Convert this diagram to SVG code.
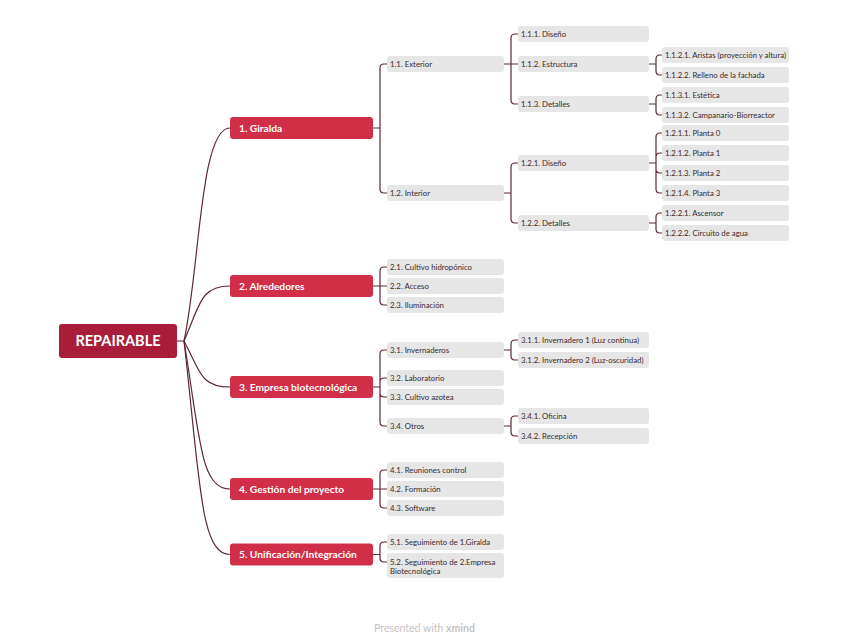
<svg xmlns="http://www.w3.org/2000/svg" width="848" height="642" viewBox="0 0 848 642">
<style>
.c{fill:none;stroke:#5E2933;stroke-width:1.2}
.root{fill:#A91D3A}
.n1{fill:#D12E47}
.n{fill:#E6E6E6}
.tr{font-family:Lato,"Open Sans",sans-serif;font-weight:bold;font-size:14.5px;fill:#fff}
.t1{font-family:Lato,"Open Sans",sans-serif;font-weight:bold;font-size:10.2px;fill:#fff}
.t{font-family:Lato,"Open Sans",sans-serif;font-size:7.8px;fill:#3B2A2E}
.ft{font-family:Lato,"Open Sans",sans-serif;font-size:10.5px;fill:#C4C4C4}
</style>
<rect width="848" height="642" fill="#fff"/>
<g id="connectors">
<path class="c" d="M177,341H184C200,266.5 200,128 230,128"/>
<path class="c" d="M184,341C200,305 200,286 230,286"/>
<path class="c" d="M184,341C200,371 200,387 230,387"/>
<path class="c" d="M184,341C200,437 200,489 230,489"/>
<path class="c" d="M184,341C200,479.7 200,554.5 230,554.5"/>
<path class="c" d="M373,128H380M380,128V68Q380,64 384,64H387M380,128V189Q380,193 384,193H387"/>
<path class="c" d="M373,286H387M380,286V271Q380,267 384,267H387M380,286V301Q380,305 384,305H387"/>
<path class="c" d="M373,387H380M380,387V354Q380,350 384,350H387M380,387V382Q380,378 384,378H387M380,387V393Q380,397 384,397H387M380,387V422Q380,426 384,426H387"/>
<path class="c" d="M373,489H387M380,489V474Q380,470 384,470H387M380,489V504Q380,508 384,508H387"/>
<path class="c" d="M373,554.5H380M380,554.5V546Q380,542 384,542H387M380,554.5V558Q380,562 384,562H387"/>
<path class="c" d="M504,64H518M511,64V38Q511,34 515,34H518M511,64V100Q511,104 515,104H518"/>
<path class="c" d="M504,193H511M511,193V167Q511,163 515,163H518M511,193V219Q511,223 515,223H518"/>
<path class="c" d="M504,350H511M511,350V344Q511,340 515,340H518M511,350V356Q511,360 515,360H518"/>
<path class="c" d="M504,426H511M511,426V420Q511,416 515,416H518M511,426V432Q511,436 515,436H518"/>
<path class="c" d="M649,64H656M656,64V59Q656,55 660,55H662M656,64V71Q656,75 660,75H662"/>
<path class="c" d="M649,104H656M656,104V99Q656,95 660,95H662M656,104V111Q656,115 660,115H662"/>
<path class="c" d="M649,163H656M656,163V137Q656,133 660,133H662M656,163V157Q656,153 660,153H662M656,163V169Q656,173 660,173H662M656,163V189Q656,193 660,193H662"/>
<path class="c" d="M649,223H656M656,223V217Q656,213 660,213H662M656,223V229Q656,233 660,233H662"/>
</g>
<g id="root"><rect class="root" x="59" y="324" width="118" height="34" rx="3"/><text class="tr" x="118" y="346" text-anchor="middle">REPAIRABLE</text></g>
<g id="n1"><rect class="n1" x="230" y="117" width="143" height="22" rx="3"/><text class="t1" x="239" y="131.7">1. Giralda</text></g>
<g id="n2"><rect class="n1" x="230" y="275" width="143" height="22" rx="3"/><text class="t1" x="239" y="289.7">2. Alrededores</text></g>
<g id="n3"><rect class="n1" x="230" y="376" width="143" height="22" rx="3"/><text class="t1" x="239" y="390.7">3. Empresa biotecnológica</text></g>
<g id="n4"><rect class="n1" x="230" y="478" width="143" height="22" rx="3"/><text class="t1" x="239" y="492.7">4. Gestión del proyecto</text></g>
<g id="n5"><rect class="n1" x="230" y="543.5" width="143" height="22" rx="3"/><text class="t1" x="239" y="558.2">5. Unificación/Integración</text></g>
<g id="n1_1"><rect class="n" x="387" y="56" width="117" height="16" rx="3"/><text class="t" x="390" y="66.8">1.1. Exterior</text></g>
<g id="n1_2"><rect class="n" x="387" y="185" width="117" height="16" rx="3"/><text class="t" x="390" y="195.8">1.2. Interior</text></g>
<g id="n2_1"><rect class="n" x="387" y="259" width="117" height="16" rx="3"/><text class="t" x="390" y="269.8">2.1. Cultivo hidropónico</text></g>
<g id="n2_2"><rect class="n" x="387" y="278" width="117" height="16" rx="3"/><text class="t" x="390" y="288.8">2.2. Acceso</text></g>
<g id="n2_3"><rect class="n" x="387" y="297" width="117" height="16" rx="3"/><text class="t" x="390" y="307.8">2.3. Iluminación</text></g>
<g id="n3_1"><rect class="n" x="387" y="342" width="117" height="16" rx="3"/><text class="t" x="390" y="352.8">3.1. Invernaderos</text></g>
<g id="n3_2"><rect class="n" x="387" y="370" width="117" height="16" rx="3"/><text class="t" x="390" y="380.8">3.2. Laboratorio</text></g>
<g id="n3_3"><rect class="n" x="387" y="389" width="117" height="16" rx="3"/><text class="t" x="390" y="399.8">3.3. Cultivo azotea</text></g>
<g id="n3_4"><rect class="n" x="387" y="418" width="117" height="16" rx="3"/><text class="t" x="390" y="428.8">3.4. Otros</text></g>
<g id="n4_1"><rect class="n" x="387" y="462" width="117" height="16" rx="3"/><text class="t" x="390" y="472.8">4.1. Reuniones control</text></g>
<g id="n4_2"><rect class="n" x="387" y="481" width="117" height="16" rx="3"/><text class="t" x="390" y="491.8">4.2. Formación</text></g>
<g id="n4_3"><rect class="n" x="387" y="500" width="117" height="16" rx="3"/><text class="t" x="390" y="510.8">4.3. Software</text></g>
<g id="n5_1"><rect class="n" x="387" y="534" width="117" height="16" rx="3"/><text class="t" x="390" y="544.8">5.1. Seguimiento de 1.Giralda</text></g>
<g id="n5_2"><rect class="n" x="387" y="553" width="117" height="25" rx="3"/><text class="t" x="390" y="564.5">5.2. Seguimiento de 2.Empresa</text><text class="t" x="390" y="574">Biotecnológica</text></g>
<g id="n1_1_1"><rect class="n" x="518" y="26" width="131" height="16" rx="3"/><text class="t" x="521" y="36.8">1.1.1. Diseño</text></g>
<g id="n1_1_2"><rect class="n" x="518" y="56" width="131" height="16" rx="3"/><text class="t" x="521" y="66.8">1.1.2. Estructura</text></g>
<g id="n1_1_3"><rect class="n" x="518" y="96" width="131" height="16" rx="3"/><text class="t" x="521" y="106.8">1.1.3. Detalles</text></g>
<g id="n1_2_1"><rect class="n" x="518" y="155" width="131" height="16" rx="3"/><text class="t" x="521" y="165.8">1.2.1. Diseño</text></g>
<g id="n1_2_2"><rect class="n" x="518" y="215" width="131" height="16" rx="3"/><text class="t" x="521" y="225.8">1.2.2. Detalles</text></g>
<g id="n3_1_1"><rect class="n" x="518" y="332" width="131" height="16" rx="3"/><text class="t" x="521" y="342.8">3.1.1. Invernadero 1 (Luz continua)</text></g>
<g id="n3_1_2"><rect class="n" x="518" y="352" width="131" height="16" rx="3"/><text class="t" x="521" y="362.8">3.1.2. Invernadero 2 (Luz-oscuridad)</text></g>
<g id="n3_4_1"><rect class="n" x="518" y="408" width="131" height="16" rx="3"/><text class="t" x="521" y="418.8">3.4.1. Oficina</text></g>
<g id="n3_4_2"><rect class="n" x="518" y="428" width="131" height="16" rx="3"/><text class="t" x="521" y="438.8">3.4.2. Recepción</text></g>
<g id="n1_1_2_1"><rect class="n" x="662" y="47" width="127" height="16" rx="3"/><text class="t" x="665" y="57.8">1.1.2.1. Aristas (proyección y altura)</text></g>
<g id="n1_1_2_2"><rect class="n" x="662" y="67" width="127" height="16" rx="3"/><text class="t" x="665" y="77.8">1.1.2.2. Relleno de la fachada</text></g>
<g id="n1_1_3_1"><rect class="n" x="662" y="87" width="127" height="16" rx="3"/><text class="t" x="665" y="97.8">1.1.3.1. Estética</text></g>
<g id="n1_1_3_2"><rect class="n" x="662" y="107" width="127" height="16" rx="3"/><text class="t" x="665" y="117.8">1.1.3.2. Campanario-Biorreactor</text></g>
<g id="n1_2_1_1"><rect class="n" x="662" y="125" width="127" height="16" rx="3"/><text class="t" x="665" y="135.8">1.2.1.1. Planta 0</text></g>
<g id="n1_2_1_2"><rect class="n" x="662" y="145" width="127" height="16" rx="3"/><text class="t" x="665" y="155.8">1.2.1.2. Planta 1</text></g>
<g id="n1_2_1_3"><rect class="n" x="662" y="165" width="127" height="16" rx="3"/><text class="t" x="665" y="175.8">1.2.1.3. Planta 2</text></g>
<g id="n1_2_1_4"><rect class="n" x="662" y="185" width="127" height="16" rx="3"/><text class="t" x="665" y="195.8">1.2.1.4. Planta 3</text></g>
<g id="n1_2_2_1"><rect class="n" x="662" y="205" width="127" height="16" rx="3"/><text class="t" x="665" y="215.8">1.2.2.1. Ascensor</text></g>
<g id="n1_2_2_2"><rect class="n" x="662" y="225" width="127" height="16" rx="3"/><text class="t" x="665" y="235.8">1.2.2.2. Circuito de agua</text></g>
<text class="ft" x="424.5" y="632" text-anchor="middle">Presented with <tspan font-weight="bold">xmind</tspan></text>
</svg>
